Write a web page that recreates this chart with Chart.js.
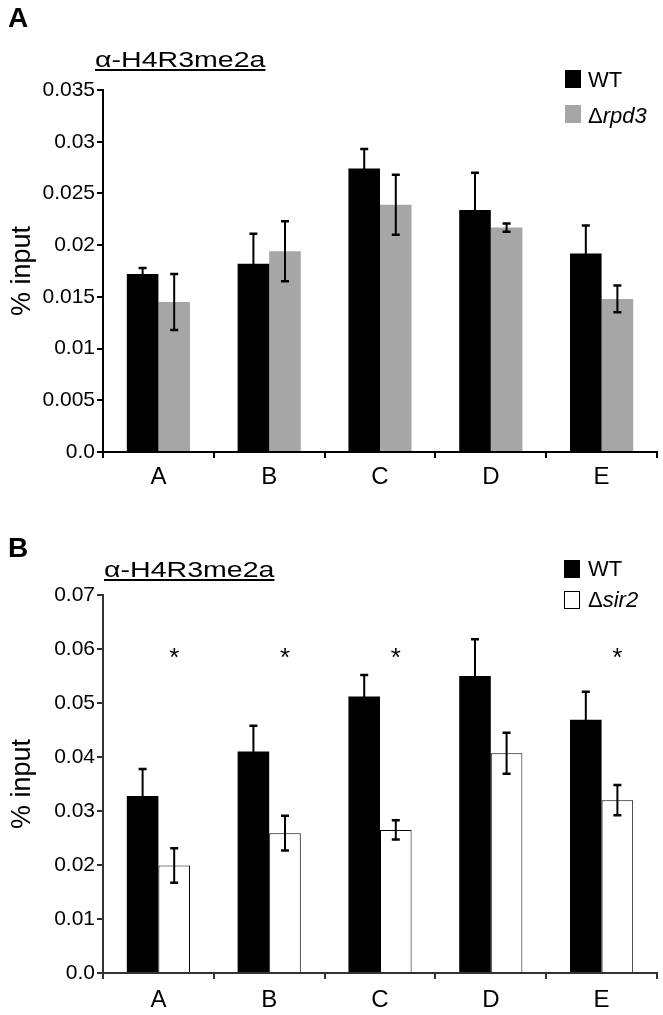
<!DOCTYPE html>
<html>
<head>
<meta charset="utf-8">
<script src="https://cdn.jsdelivr.net/npm/chart.js@4.4.1/dist/chart.umd.min.js"></script>
<style>
    html, body { margin: 0; padding: 0; background: #fff; }
    body { width: 663px; height: 1015px; position: relative; overflow: hidden; font-family: "Liberation Sans", Arial, sans-serif; color: #000; }
    .box { position: absolute; left: 0; width: 663px; }
    .letter { position: absolute; left: 8px; font-size: 28px; line-height: 28px; font-weight: bold; }
    .title { position: absolute; font-size: 22px; line-height: 22px; white-space: nowrap; text-decoration: underline; text-decoration-thickness: 1.5px; text-underline-offset: 2px; transform-origin: left top; }
    .sw { position: absolute; width: 16px; height: 18px; box-sizing: border-box; }
    .lbl { position: absolute; font-size: 22px; line-height: 22px; white-space: nowrap; }
</style>
</head>
<body>
<div class="box" style="top:0;height:505px;"><canvas id="chartA"></canvas></div>
<div class="box" style="top:505px;height:510px;"><canvas id="chartB"></canvas></div>

<div class="letter" style="top:4px;">A</div>
<div class="title" id="titleA" style="left:95px;top:49px;">α-H4R3me2a</div>
<div class="sw" style="left:565px;top:70px;background:#000;"></div>
<div class="lbl" style="left:588px;top:69px;">WT</div>
<div class="sw" style="left:565px;top:105px;background:#a6a6a6;"></div>
<div class="lbl" style="left:588px;top:105px;">Δ<i>rpd3</i></div>

<div class="letter" style="top:534px;">B</div>
<div class="title" id="titleB" style="left:104px;top:559px;">α-H4R3me2a</div>
<div class="sw" style="left:564px;top:560px;background:#000;"></div>
<div class="lbl" style="left:588px;top:558px;">WT</div>
<div class="sw" style="left:564px;top:591px;background:#fff;border:1px solid #000;"></div>
<div class="lbl" style="left:588px;top:589px;">Δ<i>sir2</i></div>

<script>
// data
const categories = ['A', 'B', 'C', 'D', 'E'];

// panel A: WT vs rpd3
const wtA = [0.0172, 0.0182, 0.0274, 0.0234, 0.0192];
const wtAErr = [0.0006, 0.0029, 0.0019, 0.0036, 0.0027];
const rpd3 = [0.0145, 0.0194, 0.0239, 0.0217, 0.0148];
const rpd3Err = [0.0027, 0.0029, 0.0029, 0.0004, 0.0013];
const yTicksA = ['0.0', '0.005', '0.01', '0.015', '0.02', '0.025', '0.03', '0.035'];

// panel B: WT vs sir2
const wtB = [0.0328, 0.0410, 0.0512, 0.0550, 0.0469];
const wtBErr = [0.0050, 0.0048, 0.0040, 0.0068, 0.0052];
const sir2 = [0.0199, 0.0259, 0.0265, 0.0407, 0.0320];
const sir2Err = [0.0032, 0.0032, 0.0018, 0.0038, 0.0028];
const yTicksB = ['0.0', '0.01', '0.02', '0.03', '0.04', '0.05', '0.06', '0.07'];
const starred = [true, true, true, false, true];
const starLevel = 0.06;

// error bars drawn on top of the bars
const errorBars = {
    id: 'errorBars',
    afterDatasetsDraw(chart) {
        const ctx = chart.ctx;
        const y = chart.scales.y;
        chart.data.datasets.forEach(function(ds, i) {
            if (!ds.errors) return;
            const meta = chart.getDatasetMeta(i);
            meta.data.forEach(function(bar, j) {
                const v = ds.data[j];
                const e = ds.errors[j];
                const top = y.getPixelForValue(v + e);
                const bot = y.getPixelForValue(v - e);
                ctx.save();
                ctx.strokeStyle = '#000';
                ctx.lineWidth = 2;
                ctx.beginPath();
                ctx.moveTo(bar.x, top);
                ctx.lineTo(bar.x, bot);
                ctx.stroke();
                ctx.lineWidth = 2.5;
                ctx.beginPath();
                ctx.moveTo(bar.x - 4, top);
                ctx.lineTo(bar.x + 4, top);
                ctx.moveTo(bar.x - 4, bot);
                ctx.lineTo(bar.x + 4, bot);
                ctx.stroke();
                ctx.restore();
            });
        });
    }
};

// significance stars over the mutant bars
const stars = {
    id: 'stars',
    afterDatasetsDraw(chart, args, opts) {
        if (!opts.flags) return;
        const ctx = chart.ctx;
        const meta = chart.getDatasetMeta(1);
        const yPix = chart.scales.y.getPixelForValue(opts.level);
        ctx.save();
        ctx.fillStyle = '#000';
        ctx.font = '26px "Liberation Sans", Arial, sans-serif';
        ctx.textAlign = 'center';
        ctx.textBaseline = 'alphabetic';
        opts.flags.forEach(function(f, j) {
            if (f) ctx.fillText('*', meta.data[j].x, yPix + 17);
        });
        ctx.restore();
    }
};

function makeChart(id, datasets, yMax, step, tickLabels, axisColor, xHeight, xPad, starOpts) {
    const ctx = document.getElementById(id).getContext('2d');
    return new Chart(ctx, {
        type: 'bar',
        data: { labels: categories, datasets: datasets },
        options: {
            responsive: true,
            maintainAspectRatio: false,
            animation: false,
            layout: { padding: { top: 90, left: 0, right: 6, bottom: 0 } },
            datasets: { bar: { categoryPercentage: 0.57, barPercentage: 1.0 } },
            plugins: {
                legend: { display: false },
                tooltip: { enabled: false },
                stars: starOpts
            },
            scales: {
                x: {
                    afterFit: function(scale) { scale.height = xHeight; },
                    border: { display: true, color: axisColor, width: 2 },
                    grid: { display: true, drawOnChartArea: false, drawTicks: true, tickLength: 6, color: axisColor, lineWidth: 2 },
                    ticks: { color: '#000', padding: xPad, font: { family: '"Liberation Sans", Arial, sans-serif', size: 24 } }
                },
                y: {
                    min: 0,
                    max: yMax,
                    afterFit: function(scale) { scale.width = 103; },
                    border: { display: true, color: axisColor, width: 2 },
                    grid: { display: true, drawOnChartArea: false, drawTicks: true, tickLength: 6, color: axisColor, lineWidth: 2 },
                    ticks: {
                        stepSize: step,
                        padding: 2,
                        color: '#000',
                        font: { family: '"Liberation Sans", Arial, sans-serif', size: 21 },
                        callback: function(v) { return tickLabels[Math.round(v / step)]; }
                    },
                    title: {
                        display: true,
                        text: '% input',
                        color: '#000',
                        padding: { top: 9, bottom: 0 },
                        font: { family: '"Liberation Sans", Arial, sans-serif', size: 27, lineHeight: 1 }
                    }
                }
            }
        },
        plugins: [errorBars, stars]
    });
}

document.addEventListener('DOMContentLoaded', function() {
    // stretch the titles to the width seen in the figure
    ['titleA', 'titleB'].forEach(function(id) {
        const el = document.getElementById(id);
        el.style.transform = 'scaleX(' + (170 / el.offsetWidth) + ')';
    });

    makeChart('chartA', [
        { label: 'WT', data: wtA, errors: wtAErr, backgroundColor: '#000' },
        { label: 'Δrpd3', data: rpd3, errors: rpd3Err, backgroundColor: '#a6a6a6' }
    ], 0.035, 0.005, yTicksA, '#000', 53, 4.5, {});

    makeChart('chartB', [
        { label: 'WT', data: wtB, errors: wtBErr, backgroundColor: '#000' },
        { label: 'Δsir2', data: sir2, errors: sir2Err, backgroundColor: '#fff', borderColor: '#000', borderWidth: 1 }
    ], 0.07, 0.01, yTicksB, '#333', 42, 6.5, { flags: starred, level: starLevel });
});
</script>
</body>
</html>
